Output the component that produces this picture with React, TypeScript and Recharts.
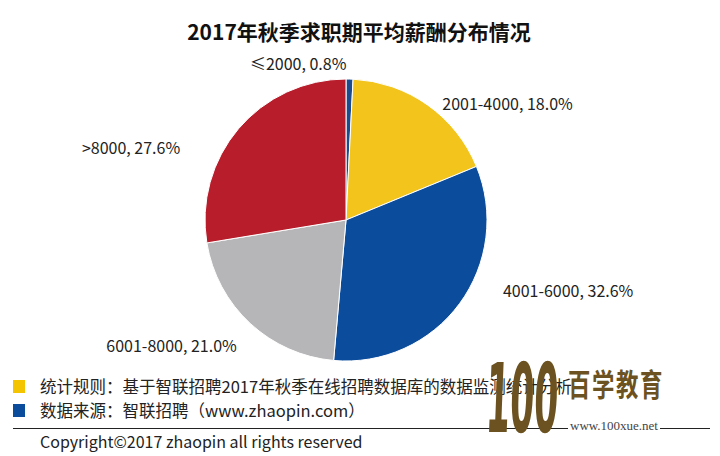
import { PieChart, Pie, Cell } from 'recharts';

const categories = ['≤2000', '2001-4000', '4001-6000', '6001-8000', '>8000'];
const shares = [0.8, 18.0, 32.6, 21.0, 27.6];
const sliceColors = ['#1d4b8f', '#f2c41c', '#0b4c9c', '#b6b6b8', '#b81d2b'];
// nudges applied to each label after placing it on its mid angle
const labelNudge: [number, number][] = [
  [-52, 8],
  [1, 18],
  [24, -28],
  [3, 4],
  [-40, 34],
];
const labelAnchor = ['middle', 'start', 'start', 'end', 'end'];

const notes = [
  { color: '#f5c400', text: '统计规则：基于智联招聘2017年秋季在线招聘数据库的数据监测统计分析' },
  { color: '#0b4c9c', text: '数据来源：智联招聘（www.zhaopin.com）' },
];

const data = categories.map((name, i) => ({ name, value: shares[i] }));

const RAD = Math.PI / 180;
const font = '"Noto Sans CJK SC", "Noto Sans", sans-serif';

function renderLabel(props: any) {
  const { cx, cy, midAngle, outerRadius, index, name, value } = props;
  const r = outerRadius + 24;
  const x = cx + r * Math.cos(-midAngle * RAD) + labelNudge[index][0];
  const y = cy + r * Math.sin(-midAngle * RAD) + labelNudge[index][1];
  return (
    <text
      x={x}
      y={y}
      textAnchor={labelAnchor[index]}
      dominantBaseline="central"
      fill="#222"
      fontSize={16}
      fontFamily={font}
    >
      {`${name}, ${value.toFixed(1)}%`}
    </text>
  );
}

export default function App() {
  return (
    <div style={{ position: 'absolute', left: 0, top: 0, width: 720, height: 456, background: '#fff', fontFamily: font, overflow: 'hidden' }}>
      <div style={{ position: 'absolute', left: 0, top: 16, width: 718, textAlign: 'center', fontSize: 21, fontWeight: 700, color: '#111' }}>
        2017年秋季求职期平均薪酬分布情况
      </div>
      <PieChart width={720} height={456} margin={{ top: 0, right: 0, bottom: 0, left: 0 }} style={{ position: 'absolute', left: 0, top: 0 }}>
        <Pie
          data={data}
          dataKey="value"
          nameKey="name"
          cx={346}
          cy={220}
          outerRadius={141}
          startAngle={90}
          endAngle={-270}
          stroke="#fff"
          strokeWidth={1}
          label={renderLabel}
          labelLine={false}
          isAnimationActive={false}
        >
          {data.map((d, i) => (
            <Cell key={d.name} fill={sliceColors[i]} />
          ))}
        </Pie>
      </PieChart>
      {notes.map((n, i) => (
        <div key={i} style={{ position: 'absolute', left: 13, top: 374 + i * 24, display: 'flex', alignItems: 'center', fontSize: 16.5, color: '#222', whiteSpace: 'nowrap' }}>
          <span style={{ display: 'inline-block', width: 12, height: 13, background: n.color, marginRight: 15 }} />
          {n.text}
        </div>
      ))}
      <div style={{ position: 'absolute', left: 13, right: 10, top: 428, height: 1, background: '#222' }} />
      <div style={{ position: 'absolute', left: 40, top: 429, fontSize: 16, color: '#222', whiteSpace: 'nowrap' }}>
        Copyright©2017 zhaopin all rights reserved
      </div>
      <div style={{ position: 'absolute', left: 486, top: 350, width: 230, height: 90, color: '#6b5220', whiteSpace: 'nowrap' }}>
        <div style={{ position: 'absolute', left: 2, top: 1, fontSize: 96, lineHeight: 1, fontWeight: 900, fontFamily: '"DejaVu Sans", sans-serif', transform: 'scaleX(0.36) skewX(-6deg)', transformOrigin: 'left top' }}>
          100
        </div>
        <div style={{ position: 'absolute', left: 82, top: 17, fontSize: 28, lineHeight: 1, fontWeight: 700, transform: 'scaleX(0.8) scaleY(1.1)', transformOrigin: 'left top', letterSpacing: 2 }}>
          百学教育
        </div>
        <div style={{ position: 'absolute', left: 82, top: 68, fontSize: 13, lineHeight: '15px', fontFamily: '"Liberation Serif", serif', background: '#fff', color: '#444', padding: '0 2px' }}>
          www.100xue.net
        </div>
      </div>
    </div>
  );
}
